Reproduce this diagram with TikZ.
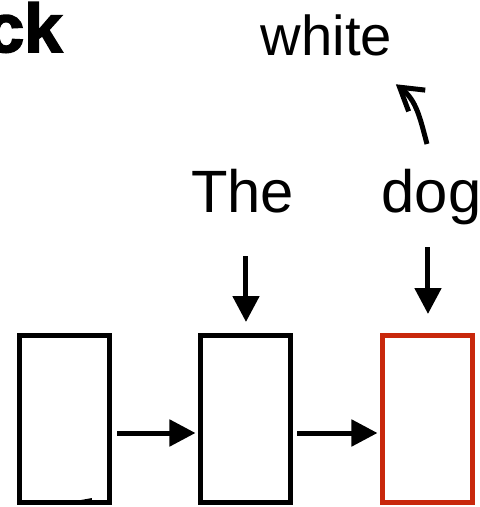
\documentclass[tikz,border=0pt]{standalone}
\usepackage{fontspec}
\setmainfont{Liberation Sans}
\newfontfamily\heavyfont[FakeBold=2.5]{Liberation Sans Bold}
\usetikzlibrary{arrows.meta}
\usetikzlibrary{positioning}
\definecolor{cellred}{RGB}{200,40,12}

\begin{document}
\begin{tikzpicture}[
    cell/.style={draw, line width=0.05cm, minimum width=0.9cm, minimum height=1.67cm, inner sep=0pt},
    word/.style={font=\fontsize{17pt}{20pt}\selectfont, inner sep=0pt, anchor=base},
    arr/.style={line width=0.05cm, -{Triangle[length=0.26cm,width=0.26cm]}},
    barb/.style={line width=0.05cm, -{Straight Barb[length=0.22cm,width=0.27cm]}},
  ]
    \useasboundingbox (0,0) rectangle (4.8,5.07);

    % cells of the network
    \node[cell] (c1) at (0.65,0.88) {};
    \node[cell, right=0.86cm of c1] (c2) {};
    \node[cell, draw=cellred, right=0.87cm of c2] (c3) {};

    % words fed in and predicted
    \node[word] (the) at (2.425,2.95) {The};
    \node[word] (dog) at (4.315,2.95) {dog};
    \node[word, font=\fontsize{16pt}{19pt}\selectfont] (white) at (3.265,4.52) {white};
    \node[word, font=\fontsize{19.5pt}{23pt}\heavyfont, anchor=base east] (stack) at (0.63,4.55) {ck};

    \draw[arr, shorten <=0.05cm, shorten >=0.03cm] ([yshift=-0.14cm]c1.east) -- ([yshift=-0.14cm]c2.west);
    \draw[arr, shorten <=0.04cm, shorten >=0.03cm] ([yshift=-0.14cm]c2.east) -- ([yshift=-0.14cm]c3.west);
    \draw[arr, shorten <=0.43cm, shorten >=0.11cm] (c2.north |- the.south) -- (c2.north);
    \draw[arr, shorten <=0.22cm, shorten >=0.19cm] (c3.north |- dog.south) -- (c3.north);
    \draw[barb] ([xshift=-0.045cm,yshift=0.24cm]dog.north) to[out=105,in=-38] ([xshift=0.03cm,yshift=-0.28cm]white.south east);

    % tip of an arrow coming in from below
    \fill (0.70,0.05) -- (0.92,0.09) -- (0.92,0.05) -- cycle;
\end{tikzpicture}
\end{document}
